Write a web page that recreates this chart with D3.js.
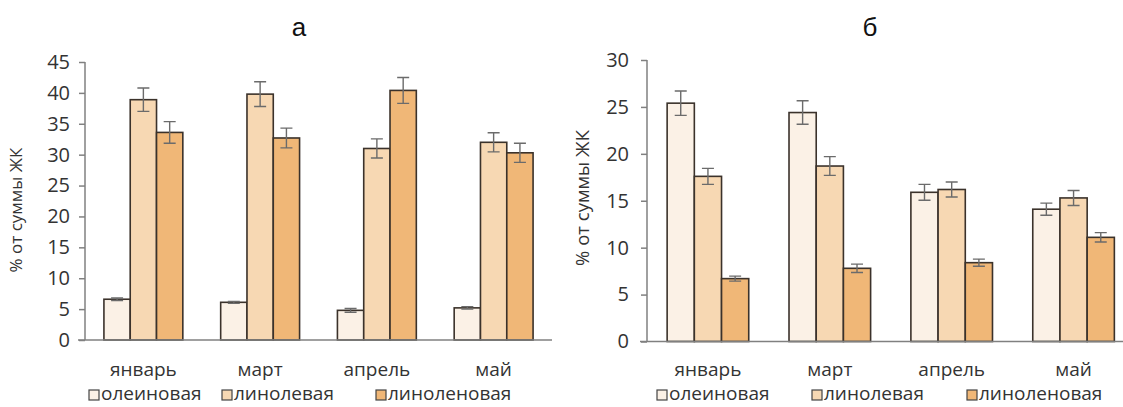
<!DOCTYPE html>
<html><head><meta charset="utf-8">
<script src="https://cdn.jsdelivr.net/npm/d3@7"></script>
<style>body{margin:0;background:#fff}svg{display:block}</style>
</head><body>
<svg id="c" width="1123" height="407"></svg>
<script>
const months = ["январь","март","апрель","май"];
const seriesNames = ["олеиновая","линолевая","линоленовая"];
const colors = ["#fbf1e6","#f7d8b3","#f0b777"];
// panel а
const aOleic = [6.6, 6.1, 4.8, 5.2];
const aOleicErr = [0.2, 0.15, 0.3, 0.2];
const aLinoleic = [38.9, 39.8, 31.0, 32.0];
const aLinoleicErr = [1.9, 2.0, 1.55, 1.55];
const aLinolenic = [33.6, 32.7, 40.4, 30.3];
const aLinolenicErr = [1.75, 1.6, 2.1, 1.55];
const aTicks = [0,5,10,15,20,25,30,35,40,45];
// panel б
const bOleic = [25.4, 24.4, 15.9, 14.1];
const bOleicErr = [1.3, 1.25, 0.85, 0.65];
const bLinoleic = [17.6, 18.7, 16.2, 15.3];
const bLinoleicErr = [0.85, 1.0, 0.8, 0.8];
const bLinolenic = [6.7, 7.8, 8.4, 11.1];
const bLinolenicErr = [0.27, 0.45, 0.38, 0.5];
const bTicks = [0,5,10,15,20,25,30];

const svg = d3.select("#c");
const font = "'Open Sans', sans-serif";

function panel(cfg){
  const g = svg.append("g");
  const x = d3.scaleBand().domain(months).range([cfg.x0, cfg.x1]).paddingInner(0).paddingOuter(0);
  const y = d3.scaleLinear().domain([0, cfg.max]).range([cfg.y0, cfg.y1]);
  const bw = cfg.bw;
  const vals = [cfg.v[0], cfg.v[1], cfg.v[2]];
  const errs = [cfg.e[0], cfg.e[1], cfg.e[2]];
  const ya = g.append("g").attr("transform", `translate(${cfg.x0},0)`)
    .call(d3.axisLeft(y).tickValues(cfg.ticks).tickSize(6).tickPadding(cfg.tickPad));
  ya.select(".domain").attr("stroke","#808080").attr("stroke-width",1.5).attr("d",`M-0,${cfg.y0}V${cfg.y1}`);
  ya.selectAll(".tick line").attr("stroke","#808080").attr("stroke-width",1.5);
  ya.selectAll(".tick text").attr("font-family",font).attr("font-size",cfg.tickFs).attr("fill","#333");
  vals.forEach((arr, s) => {
    months.forEach((m, i) => {
      const cx = x(m) + x.bandwidth()/2 + (s-1)*bw;
      g.append("rect").attr("x", cx - bw/2).attr("width", bw)
        .attr("y", y(arr[i])).attr("height", y(0)-y(arr[i]))
        .attr("fill", colors[s]).attr("stroke","#3b322b").attr("stroke-width",1.6);
    });
  });
  vals.forEach((arr, s) => {
    months.forEach((m, i) => {
      const cx = x(m) + x.bandwidth()/2 + (s-1)*bw;
      const hi = y(arr[i]+errs[s][i]), lo = y(arr[i]-errs[s][i]);
      g.append("path").attr("d",`M${cx},${hi}V${lo}M${cx-6},${hi}H${cx+6}M${cx-6},${lo}H${cx+6}`)
        .attr("stroke","#6b6b6b").attr("stroke-width",1.4).attr("fill","none");
    });
  });
  g.append("line").attr("x1", cfg.x0-7).attr("x2", cfg.xEnd).attr("y1", y(0)).attr("y2", y(0))
    .attr("stroke","#808080").attr("stroke-width",1.5);
  months.forEach(m => {
    g.append("text").attr("x", x(m)+x.bandwidth()/2).attr("y", cfg.labY)
      .attr("text-anchor","middle").attr("font-family",font).attr("font-size",cfg.labFs).attr("fill","#333").text(m);
  });
  g.append("text").attr("transform",`translate(${cfg.ytX},${cfg.ytY}) rotate(-90)`)
    .attr("text-anchor","middle").attr("font-family",font).attr("font-size",cfg.ytFs).attr("fill","#333").text("% от суммы ЖК");
  g.append("text").attr("x", cfg.tX).attr("y", 36).attr("text-anchor","middle")
    .attr("font-family","'Liberation Sans', Arial, sans-serif").attr("font-size",26).attr("fill","#111").text(cfg.title);
  seriesNames.forEach((n, s) => {
    const lx = cfg.legX[s];
    g.append("rect").attr("x", lx).attr("y", cfg.legY-5).attr("width",10).attr("height",10)
      .attr("fill", colors[s]).attr("stroke","#444").attr("stroke-width",1.2);
    g.append("text").attr("x", lx+12).attr("y", cfg.legY+5).attr("font-family",font)
      .attr("font-size",cfg.labFs).attr("fill","#333").text(n);
  });
}

panel({x0:85, x1:552, xEnd:552, y0:340, y1:62, max:45, bw:26.3, ticks:aTicks, tickPad:9,
  v:[aOleic,aLinoleic,aLinolenic], e:[aOleicErr,aLinoleicErr,aLinolenicErr],
  tickFs:20, labFs:19, labY:376, ytX:22, ytY:210, ytFs:17, tX:299, title:"а",
  legX:[89,222,376], legY:395});
panel({x0:647, x1:1134.5, xEnd:1123, y0:341.5, y1:60, max:30, bw:27.2, ticks:bTicks, tickPad:12,
  v:[bOleic,bLinoleic,bLinolenic], e:[bOleicErr,bLinoleicErr,bLinolenicErr],
  tickFs:20, labFs:19, labY:376, ytX:589, ytY:198, ytFs:18.5, tX:870, title:"б",
  legX:[657,812,967], legY:395});
</script>
</body></html>
